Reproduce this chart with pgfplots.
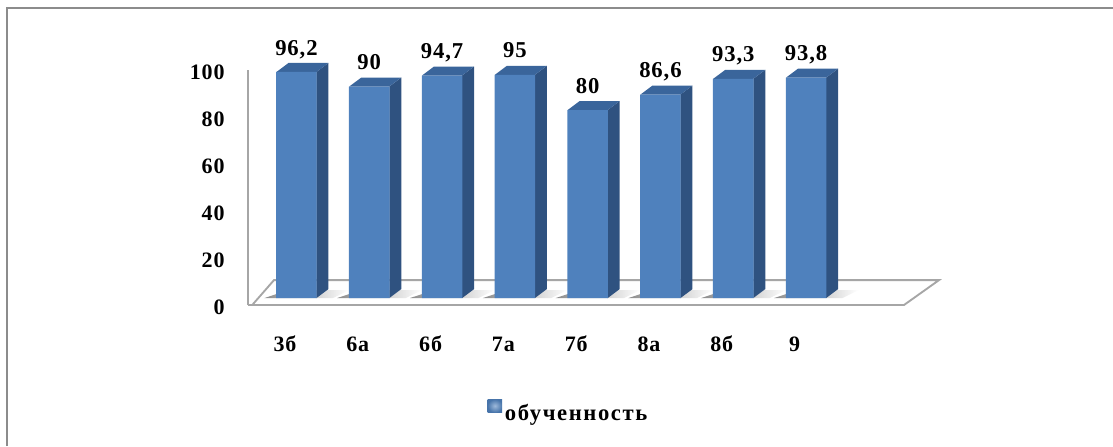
\documentclass[border=0pt]{standalone}
\usepackage{fontspec}
\setmainfont{Liberation Serif}
\newfontfamily\chartfont[LetterSpace=4]{Liberation Serif}
\usepackage{pgfplots}
\usepackage{pgfplotstable}
\pgfplotsset{compat=1.18}
\definecolor{barfront}{HTML}{4F81BD}
\definecolor{barside}{HTML}{2F5280}
\definecolor{bartop}{HTML}{3A659B}
\definecolor{floorline}{HTML}{A6A6A6}
\definecolor{frameline}{HTML}{8C8C8C}

\pgfplotstableread{
x v
0 96.2
1 90
2 94.7
3 95
4 80
5 86.6
6 93.3
7 93.8
}\classdata

% side, top face and floor shadow of one bar, in axis units
\newcommand\depthbar[2]{%
  \pgfmathsetmacro\xl{#1-0.275}%
  \pgfmathsetmacro\xr{#1+0.275}%
  \pgfmathsetmacro\xlb{#1-0.110}%
  \pgfmathsetmacro\xrb{#1+0.440}%
  \pgfmathsetmacro\vb{#2+3.83}%
  \pgfmathsetmacro\xsa{#1-0.44}%
  \pgfmathsetmacro\xsb{#1+0.72}%
  \pgfmathsetmacro\xsc{#1+0.50}%
  \addplot[forget plot,draw=none,left color=black!45,middle color=black!45,right color=white,shift={(8.6pt,5.2pt)}]
    coordinates {(\xsa,0) (\xlb,3.4) (\xsb,3.4) (\xsc,0)} --cycle;
  \addplot[forget plot,draw=none,fill=barside,shift={(8.6pt,5.2pt)}]
    coordinates {(\xr,0) (\xrb,3.83) (\xrb,\vb) (\xr,#2)} --cycle;
  \addplot[forget plot,draw=none,fill=bartop,shift={(8.6pt,5.2pt)}]
    coordinates {(\xl,#2) (\xlb,\vb) (\xrb,\vb) (\xr,#2)} --cycle;
}

\begin{document}
\begin{tikzpicture}[x=1pt,y=1pt]
\path[use as bounding box] (0,0) rectangle (834.75,-334.5);
\draw[frameline,line width=1.9pt] (5.4,-334.5) -- (5.4,-6) -- (834.75,-6);
\begin{axis}[
    at={(186pt,-228.75pt)},
    anchor=south west,
    scale only axis,
    width=492pt,
    height=176.25pt,
    xmin=-0.508, xmax=8.503,
    ymin=0, ymax=100,
    clip=false,
    axis x line*=bottom,
    axis y line*=left,
    axis line style={floorline,line width=1.4pt,-},
    major tick length=0pt,
    xtick={0,1,2,3,4,5,6,7},
    xticklabels={3б,6а,6б,7а,7б,8а,8б,9},
    ytick={0,20,40,60,80,100},
    /pgf/number format/assume math mode=true,
    tick label style={font=\fontsize{16.5pt}{18pt}\chartfont\bfseries,black},
    xticklabel style={yshift=-20pt,text height=11pt,text depth=0pt},
    yticklabel style={xshift=-14pt,yshift=-1.8pt},
    legend style={at={(0.489,-0.455)},anchor=center,draw=none,fill=none,
      font=\fontsize{17pt}{19pt}\chartfont\bfseries\addfontfeature{LetterSpace=7},
      inner sep=0pt,
      /tikz/every even column/.style={column sep=5pt}},
    legend image code/.code={
      \fill[inner color=barfront!55,outer color=barfront!90!black]
        (-1.5pt,-4.8pt) rectangle (9.5pt,5.2pt);
    },
]
\addplot[forget plot,draw=floorline,line width=1.4pt,fill=white]
  coordinates {(-0.45,0) (-0.151,10.6) (8.984,10.6) (8.503,0)} --cycle;

\depthbar{0}{96.2}
\depthbar{1}{90}
\depthbar{2}{94.7}
\depthbar{3}{95}
\depthbar{4}{80}
\depthbar{5}{86.6}
\depthbar{6}{93.3}
\depthbar{7}{93.8}

\addplot[ybar,bar width=30.4pt,draw=none,fill=barfront,
    shift={(8.6pt,5.2pt)},
    nodes near coords,
    /pgf/number format/use comma,
    /pgf/number format/assume math mode=true,
    every node near coord/.append style={font=\fontsize{17pt}{19pt}\chartfont\bfseries,black,yshift=6pt,text depth=3.2pt}]
  table[x=x,y=v] {\classdata};
\addlegendentry{обученность}
\end{axis}
\end{tikzpicture}
\end{document}
